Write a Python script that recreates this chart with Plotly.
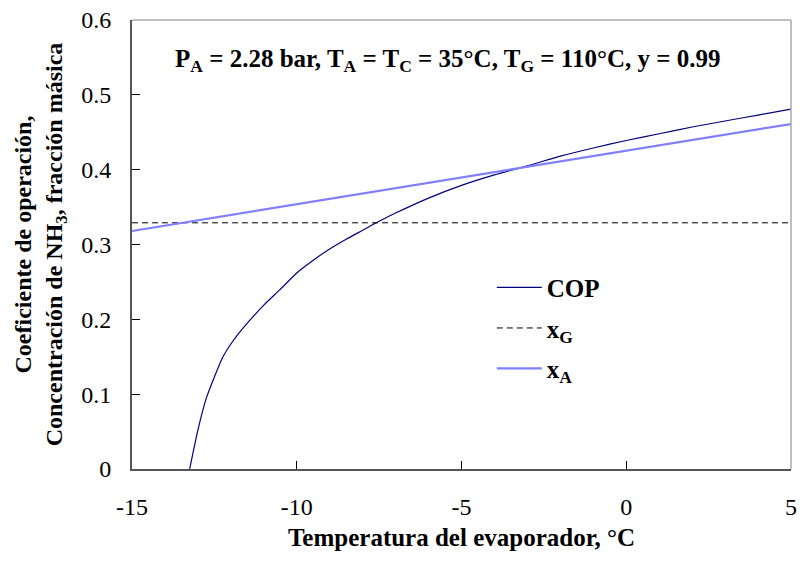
import plotly.graph_objects as go

# Data
t_cop = [-13.25, -13.0, -12.75, -12.5, -12.25, -12.0, -11.75, -11.5, -11.0, -10.5, -10.0,
         -9.5, -9.0, -8.5, -8.0, -7.5, -7.0, -6.0, -5.0, -4.0, -3.0, -2.0, -1.0,
         0.0, 1.0, 2.0, 3.0, 4.0, 5.0]
cop = [0.0, 0.052, 0.094, 0.123, 0.149, 0.167, 0.182, 0.195, 0.219, 0.240, 0.262,
       0.279, 0.294, 0.307, 0.319, 0.331, 0.342, 0.362, 0.379, 0.393, 0.405, 0.418, 0.429,
       0.439, 0.448, 0.457, 0.465, 0.473, 0.481]
t_line = [-15.0, 5.0]
x_g = [0.329, 0.329]
x_a = [0.318, 0.461]

x_ticks = [-15, -10, -5, 0, 5]
x_ticklabels = ["-15", "-10", "-5", "0", "5"]
y_ticks = [0, 0.1, 0.2, 0.3, 0.4, 0.5, 0.6]
y_ticklabels = ["0", "0.1", "0.2", "0.3", "0.4", "0.5", "0.6"]

FONT = "Liberation Serif"

fig = go.Figure()
fig.add_trace(go.Scatter(x=t_cop, y=cop, mode="lines", name="<b>COP</b>",
                         line=dict(color="#00007F", width=1.2, shape="spline", smoothing=0.6),
                         legendgroup="a"))
fig.add_trace(go.Scatter(x=t_line, y=x_g, mode="lines", name="<b>x<sub>G</sub></b>",
                         line=dict(color="black", width=1, dash="6px,4px"),
                         legendgroup="b"))
fig.add_trace(go.Scatter(x=t_line, y=x_a, mode="lines", name="<b>x<sub>A</sub></b>",
                         line=dict(color="#8080FF", width=2.2),
                         legendgroup="c"))

fig.update_layout(
    width=804, height=561,
    margin=dict(l=132, r=7, t=16, b=92),
    paper_bgcolor="white", plot_bgcolor="white",
    font=dict(family=FONT, size=24, color="black"),
    showlegend=True,
    legend=dict(x=0.546, y=0.455, xanchor="left", yanchor="top",
                bgcolor="rgba(0,0,0,0)", tracegroupgap=5, itemwidth=45,
                font=dict(family=FONT, size=25, color="black")),
    xaxis=dict(range=[-15, 5], tickvals=x_ticks, ticktext=x_ticklabels,
               ticks="inside", ticklen=8,
               tickcolor="black", showline=True, linecolor="#555555", linewidth=2,
               showgrid=False, zeroline=False, ticklabelstandoff=15,
               tickfont=dict(family=FONT, size=24),
               title=dict(text="<b>Temperatura del evaporador, °C</b>",
                          font=dict(family=FONT, size=25), standoff=10)),
    yaxis=dict(range=[0, 0.6], tickvals=y_ticks, ticktext=y_ticklabels,
               ticks="inside", ticklen=8, tickcolor="black",
               showline=True, linecolor="#555555", linewidth=2,
               showgrid=False, zeroline=False, ticklabelstandoff=14,
               tickfont=dict(family=FONT, size=24),
               title=dict(text="<b>Coeficiente de operación,<br>Concentración de NH<sub>3</sub>, fracción másica</b>",
                          font=dict(family=FONT, size=24), standoff=12)),
    annotations=[dict(
        text="<b>P<sub>A</sub> = 2.28 bar, T<sub>A</sub> = T<sub>C</sub> = 35°C, T<sub>G</sub> = 110°C, y = 0.99</b>",
        xref="paper", yref="paper", x=0.478, y=0.91, xanchor="center", yanchor="middle",
        showarrow=False, font=dict(family=FONT, size=25, color="black"))],
    shapes=[
        dict(type="line", xref="paper", yref="paper", x0=0, x1=1, y0=1, y1=1,
             line=dict(color="#AAAAAA", width=1.5)),
        dict(type="line", xref="paper", yref="paper", x0=1, x1=1, y0=0, y1=1,
             line=dict(color="#AAAAAA", width=1.5)),
    ],
)

fig.write_html("out.html")
